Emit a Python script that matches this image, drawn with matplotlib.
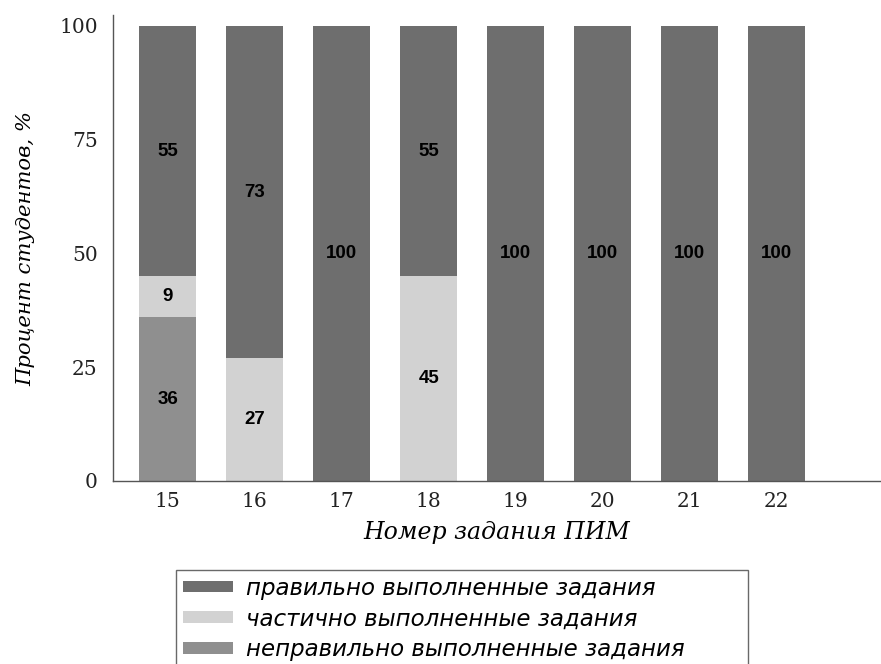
import matplotlib
matplotlib.use("Agg")
import matplotlib.pyplot as plt
import numpy as np

tasks = ['15', '16', '17', '18', '19', '20', '21', '22']
correct = [55, 73, 100, 55, 100, 100, 100, 100]
partial = [9, 27, 0, 45, 0, 0, 0, 0]
incorrect = [36, 0, 0, 0, 0, 0, 0, 0]
yticks = [0, 25, 50, 75, 100]
labels = ['правильно выполненные задания',
          'частично выполненные задания',
          'неправильно выполненные задания']

c_correct = '#6e6e6e'
c_partial = '#d2d2d2'
c_incorrect = '#8f8f8f'

fig = plt.figure(figsize=(8.81, 6.64), dpi=100)
ax = fig.add_axes([113/881, 1-481/664, 1-113/881, (481-15)/664])

x = np.arange(len(tasks))
w = 0.655
inc = np.array(incorrect)
par = np.array(partial)
cor = np.array(correct)
b1 = ax.bar(x, inc, w, color=c_incorrect, label=labels[2])
b2 = ax.bar(x, par, w, bottom=inc, color=c_partial, label=labels[1])
b3 = ax.bar(x, cor, w, bottom=inc+par, color=c_correct, label=labels[0])

for bars, vals, bottoms in [(b1, inc, np.zeros_like(inc)), (b2, par, inc), (b3, cor, inc+par)]:
    for xi, v, b in zip(x, vals, bottoms):
        if v > 0:
            ax.text(xi, b + v/2, str(v), ha='center', va='center',
                    fontsize=13.5, fontweight='bold', family='Liberation Sans', color='black')

ax.set_xlim(-0.63, 8.2)
ax.set_ylim(0, 102.4)
ax.set_xticks(x)
ax.set_xticklabels(tasks)
ax.set_yticks(yticks)
for lab in ax.get_xticklabels() + ax.get_yticklabels():
    lab.set_family('DejaVu Serif')
    lab.set_fontsize(14.5)
    lab.set_color('#222222')
ax.tick_params(length=0, pad=8)
ax.tick_params(axis='y', pad=11)
for s in ['top', 'right']:
    ax.spines[s].set_visible(False)
for s in ['left', 'bottom']:
    ax.spines[s].set_color('#555555')
    ax.spines[s].set_linewidth(1.0)

ax.set_xlabel('Номер задания ПИМ', family='DejaVu Serif', style='italic', fontsize=17, labelpad=7)
ax.set_ylabel('Процент студентов, %', family='DejaVu Serif', style='italic', fontsize=15.2, labelpad=17)

handles = [b3, b2, b1]
leg = fig.legend(handles, labels, loc='upper left',
                 bbox_to_anchor=(176/881, 1-570/664, (748-176)/881, 0.0), mode='expand',
                 prop={'family': 'DejaVu Sans', 'style': 'oblique', 'size': 16.5},
                 frameon=True, fancybox=False, edgecolor='#444444',
                 handlelength=2.2, handleheight=0.4, handletextpad=0.55,
                 borderpad=0.3, labelspacing=0.33, borderaxespad=0)
leg.get_frame().set_linewidth(1.0)

fig.savefig('out.png', dpi=100)
